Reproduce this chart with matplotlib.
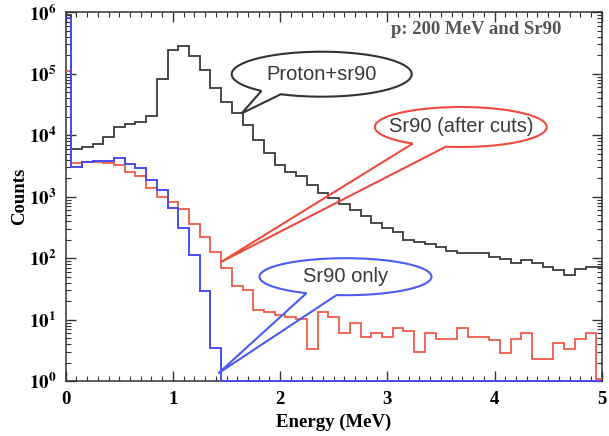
import numpy as np
import matplotlib
matplotlib.use('Agg')
import matplotlib.pyplot as plt
from matplotlib.path import Path
from matplotlib.patches import PathPatch
from matplotlib.ticker import MultipleLocator, LogLocator, FuncFormatter

# ----------------------- data (counts per 0.1 MeV bin) ------------------------
# first bin is the half bin [0, 0.05], then bins centred on 0.1, 0.2, ... 4.9, last is [4.95, 5]
proton_sr90 = [900000, 5900, 6400, 7200, 9300, 13800, 15300, 16600, 20600, 81000,
               244000, 283000, 195000, 115000, 58000, 35200, 22700, 14700, 8300, 5100,
               3290, 2570, 2140, 1550, 1140, 944, 760, 600, 480, 380,
               310, 271, 200, 186, 171, 155, 133, 123, 120, 123,
               104, 96, 83, 94, 83, 71, 65, 54, 66, 71, 71]
sr90_cuts = [110000, 3550, 3700, 3700, 3550, 3300, 2570, 2140, 1410, 1000,
             830, 630, 363, 219, 128, 69, 35, 30, 14.5, 13.5,
             12, 11, 10.2, 3.4, 13.5, 11, 6.0, 8.8, 5.3, 6.2,
             5.3, 7.3, 6.65, 3.0, 6.0, 4.8, 4.8, 7.3, 5.3, 5.3,
             4.7, 2.9, 4.8, 6.0, 2.3, 2.3, 4.15, 3.4, 4.8, 6.0, 1.1]
# empty bins sit on the axis floor (1 count)
sr90_only = [800000, 3100, 3700, 3750, 3800, 4250, 3450, 2900, 1850, 1300,
             650, 310, 112, 29, 3.5] + [1.0] * 36

edges = np.concatenate([[0.0], np.arange(0.05, 4.96, 0.1), [5.0]])
x_ticks = [0, 1, 2, 3, 4, 5]
y_decades = [0, 1, 2, 3, 4, 5, 6]

W, H = 609, 436

plt.rcParams['font.family'] = ['Liberation Serif', 'DejaVu Serif']
plt.rcParams['mathtext.fontset'] = 'stix'

fig = plt.figure(figsize=(W / 100, H / 100), dpi=100)
ax = fig.add_axes([65.7 / W, 1 - 381.3 / H, 536 / W, 369 / H])

ax.stairs(proton_sr90, edges, baseline=None, color='#3c3c3c', lw=1.3, zorder=2)
ax.stairs(sr90_cuts, edges, baseline=None, color='#ee5a48', lw=1.3, zorder=3)
ax.stairs(sr90_only, edges, baseline=None, color='#4b4bef', lw=1.4, zorder=4, clip_on=False)

ax.set_yscale('log')
ax.set_xlim(0, 5)
ax.set_ylim(1, 1e6)
ax.set_xticks(x_ticks)
ax.set_xticklabels([str(v) for v in x_ticks], fontweight='bold')
ax.xaxis.set_minor_locator(MultipleLocator(0.1))
ax.set_yticks([10.0 ** d for d in y_decades])
ax.set_yticklabels([r'$\mathbf{10^{%d}}$' % d for d in y_decades])
ax.yaxis.set_minor_locator(LogLocator(base=10, subs=np.arange(2, 10), numticks=20))
ax.tick_params(which='both', direction='in', top=True, right=True, color='#333333')
ax.tick_params(which='major', length=7, width=1.0, labelsize=13.5, pad=7)
ax.tick_params(which='minor', length=3.5, width=0.8)
for s in ax.spines.values():
    s.set_color('#333333')
    s.set_linewidth(1.1)

ax.set_xlabel('Energy (MeV)', fontsize=13.5, fontweight='bold')
ax.set_ylabel('Counts', fontsize=13.5, fontweight='bold')
ax.xaxis.set_label_coords(0.5, -0.088)
ax.yaxis.set_label_coords(-0.07, 0.5)

fig.text(476 / W, 1 - 29 / H, 'p: 200 MeV and Sr90', ha='center', va='center',
         fontsize=13.5, fontweight='bold', color='#555555')


def bubble(cx, cy, rx, ry, a_lo, a_hi, tip, color, text):
    # speech bubble in image pixels (y down); pointer leaves the ellipse between a_lo and a_hi
    t = np.radians(np.linspace(a_hi, a_lo + 360, 240))
    xs = cx + rx * np.cos(t)
    ys = cy + ry * np.sin(t)
    pts = list(zip(xs, ys)) + [tip, (xs[0], ys[0])]
    verts = [(x / W, 1 - y / H) for x, y in pts]
    patch = PathPatch(Path(verts), transform=fig.transFigure, fill=False,
                      ec=color, lw=1.5, clip_on=False, zorder=6)
    ax.add_patch(patch)
    fig.text(cx / W, 1 - cy / H, text, ha='center', va='center',
             family='Liberation Sans', fontsize=14.5, color='#3a3a3a', zorder=7)


bubble(321.7, 74.2, 90, 22.5, 117, 132, (241.7, 113.3), '#333333', 'Proton+sr90')
bubble(460.8, 127, 86, 20, 100, 124, (221, 262), '#ee4b3e', 'Sr90 (after cuts)')
bubble(345.5, 276.7, 86, 18.5, 96, 117, (218.3, 373.3), '#4b5cf0', 'Sr90 only')

fig.savefig('out.png', dpi=100)
